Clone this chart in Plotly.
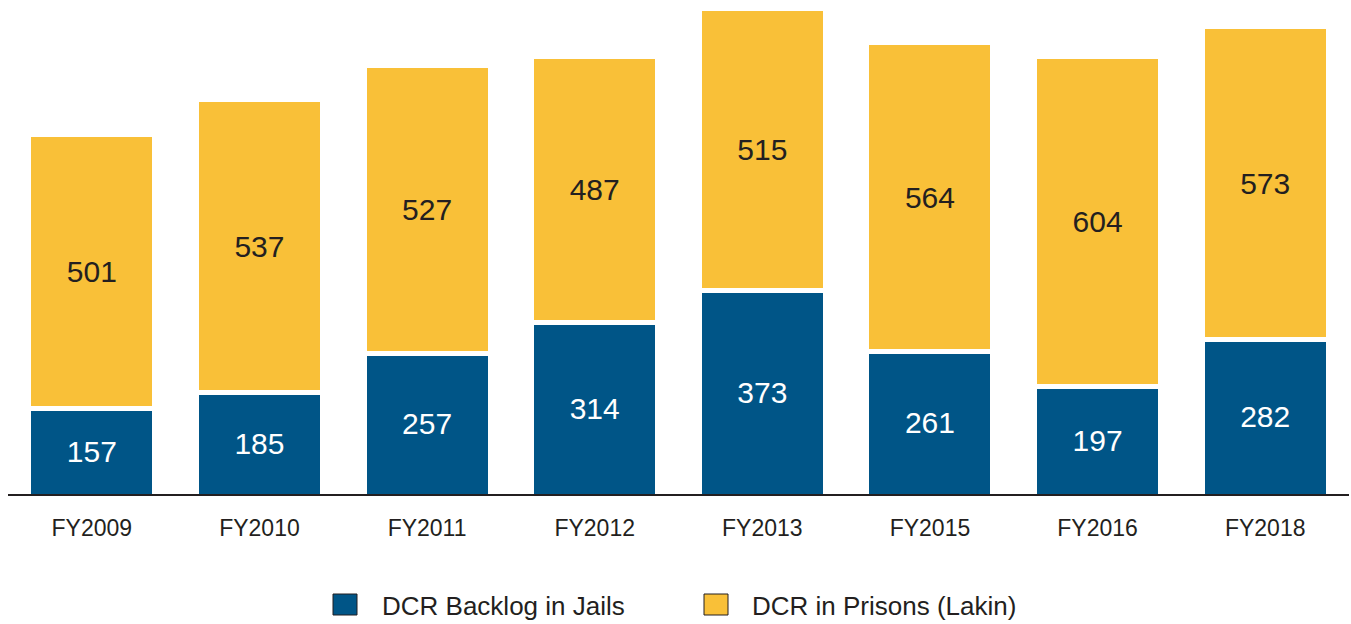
import plotly.graph_objects as go

# Fiscal years and counts for each stacked segment
years = ["FY2009", "FY2010", "FY2011", "FY2012", "FY2013", "FY2015", "FY2016", "FY2018"]
jails = [157, 185, 257, 314, 373, 261, 197, 282]
prisons = [501, 537, 527, 487, 515, 564, 604, 573]

series_names = ["DCR Backlog in Jails", "DCR in Prisons (Lakin)"]

BLUE = "#005587"
GOLD = "#F9C038"
INK = "#231F20"
FONT = "Liberation Sans"

W, H = 1351, 624
ML, MR, MT, MB = 8, 2, 0, 130
plot_w = W - ML - MR
plot_h = H - MT - MB


def px_x(px):
    return (px - ML) / plot_w


def px_y(py):
    return (H - MB - py) / plot_h


fig = go.Figure()

fig.add_trace(go.Bar(
    x=years, y=jails, name=series_names[0],
    marker=dict(color=BLUE, line=dict(width=0)),
    width=0.722,
    text=jails, textposition="inside", insidetextanchor="middle",
    textangle=0,
    textfont=dict(family=FONT, size=30, color="white"),
    showlegend=False,
))

# white outline on the upper segment makes the gap between the two parts
fig.add_trace(go.Bar(
    x=years, y=prisons, name=series_names[1],
    marker=dict(color=GOLD, line=dict(width=5, color="white")),
    width=0.752,
    text=prisons, textposition="inside", insidetextanchor="middle",
    textangle=0,
    textfont=dict(family=FONT, size=30, color=INK),
    showlegend=False,
))

# hand-drawn legend below the axis
legend_items = [
    (series_names[0], BLUE, 333, 357, 380),
    (series_names[1], GOLD, 704, 728, 750),
]
shapes = []
annotations = []
for name, color, sx0, sx1, tx in legend_items:
    shapes.append(dict(
        type="rect", xref="paper", yref="paper",
        x0=px_x(sx0), x1=px_x(sx1), y0=px_y(615), y1=px_y(594),
        fillcolor=color, line=dict(color=INK, width=1),
        layer="above",
    ))
    annotations.append(dict(
        text=name, xref="paper", yref="paper",
        x=px_x(tx), y=px_y(606), xanchor="left", yanchor="middle",
        showarrow=False,
        font=dict(family=FONT, size=26, color=INK),
    ))

fig.update_layout(
    barmode="stack",
    width=W, height=H,
    margin=dict(l=ML, r=MR, t=MT, b=MB, pad=0),
    paper_bgcolor="white", plot_bgcolor="white",
    uniformtext=dict(minsize=8, mode="show"),
    shapes=shapes,
    annotations=annotations,
    xaxis=dict(
        showline=True, linecolor=INK, linewidth=2,
        showgrid=False, zeroline=False, ticks="",
        tickfont=dict(family=FONT, size=23, color=INK),
        ticklabelstandoff=12,
    ),
    yaxis=dict(
        range=[0, 903.6], visible=False, showgrid=False, zeroline=False,
    ),
)

fig.write_html("out.html")
